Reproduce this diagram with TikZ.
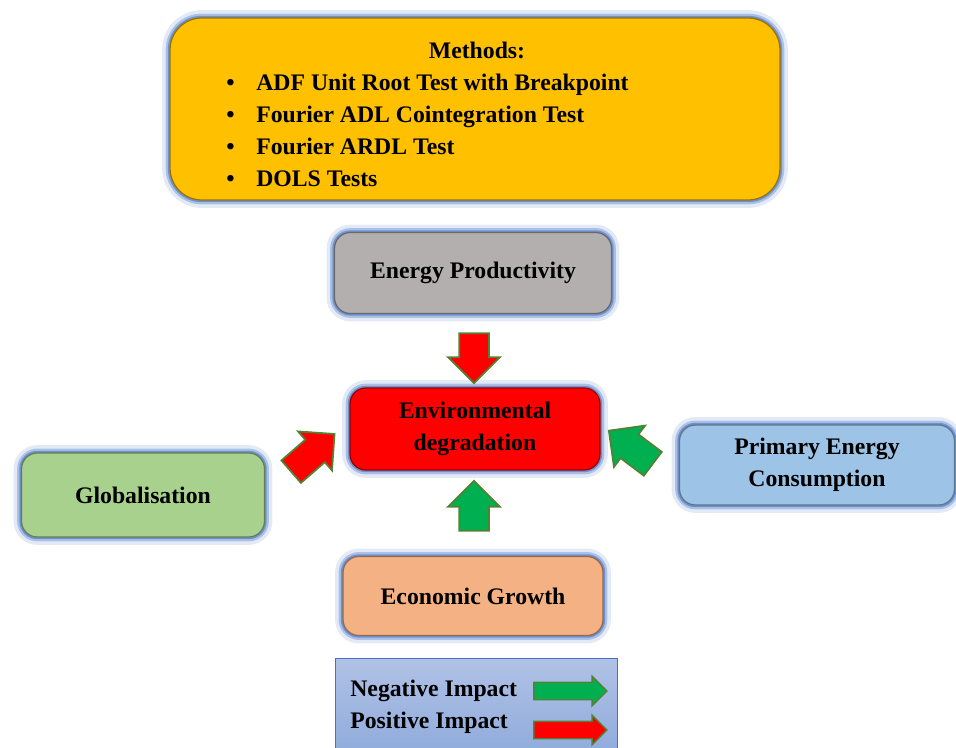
\documentclass[tikz,border=0pt]{standalone}
\usepackage{fontspec}
\setmainfont{Liberation Serif}
\usetikzlibrary{shapes.arrows,calc}

\definecolor{glowblue}{HTML}{4472C4}
\definecolor{methodsgold}{HTML}{FFC000}
\definecolor{prodgray}{HTML}{B3AFAF}
\definecolor{globgreen}{HTML}{A9D18E}
\definecolor{consblue}{HTML}{9DC3E6}
\definecolor{growthpeach}{HTML}{F4B183}
\definecolor{negarrow}{HTML}{00B050}
\definecolor{arrowedge}{HTML}{548235}
\definecolor{legendblue}{HTML}{8EA9DB}

\tikzset{
  glow/.style={preaction={draw=glowblue, line width=9pt, opacity=0.15},
               preaction={draw=glowblue, line width=5pt, opacity=0.35},
               preaction={draw=glowblue, line width=2.5pt, opacity=0.6}},
  box/.style={rounded corners=9pt, fill=#1, draw=#1!60!black, line width=0.7pt,
              glow, align=center, inner sep=0pt},
  boxfont/.style={font=\bfseries\fontsize{13.5}{18.2}\selectfont},
  bigarrow/.style={single arrow, draw=arrowedge, line width=1pt, fill=#1,
                   minimum width=1.0cm, single arrow head extend=0.22cm,
                   minimum height=1.0cm, inner xsep=0pt, inner ysep=0.28cm},
  keyarrow/.style={single arrow, draw=arrowedge, line width=0.8pt, fill=#1,
                   minimum width=0.56cm, single arrow head extend=0.12cm,
                   minimum height=1.46cm, inner xsep=0pt, inner ysep=0.16cm}
}

\begin{document}
\begin{tikzpicture}[x=0.02cm, y=-0.02cm, boxfont]
  \clip (0,0) rectangle (956,747);

  % methods
  \node[box=methodsgold, rounded corners=18pt, minimum width=12.2cm, minimum height=3.64cm] (methods) at (475,109) {};
  \node (mtitle) at (477,50) {Methods:};
  \node[anchor=west, align=left, inner sep=0pt] (mlist) at (226,130)
    {\makebox[0.6cm][l]{\textbullet}ADF Unit Root Test with Breakpoint\\
     \makebox[0.6cm][l]{\textbullet}Fourier ADL Cointegration Test\\
     \makebox[0.6cm][l]{\textbullet}Fourier ARDL Test\\
     \makebox[0.6cm][l]{\textbullet}DOLS Tests};

  % variables
  \node[box=prodgray, minimum width=5.54cm, minimum height=1.62cm] (ep) at (473,273) {Energy Productivity};
  \node[box=red, minimum width=5.0cm, minimum height=1.64cm] (env) at (475,429) {Environmental\\degradation};
  \node[box=globgreen, minimum width=4.86cm, minimum height=1.68cm] (glob) at (143,495) {Globalisation};
  \node[box=consblue, minimum width=5.5cm, minimum height=1.6cm] (pec) at (817,465) {Primary Energy\\Consumption};
  \node[box=growthpeach, minimum width=5.2cm, minimum height=1.58cm] (eg) at (473,596) {Economic Growth};

  % impact arrows
  \node[bigarrow=red, rotate=-90] (epimp) at ($(ep.south)!0.5!(env.north)$) {};
  \node[bigarrow=negarrow, rotate=90] (egimp) at ($(eg.north)!0.5!(env.south)$) {};
  \node[bigarrow=red, rotate=41, minimum height=1.15cm] (globimp) at ($(glob.north east)!0.5!(env.west)+(0,17)$) {};
  \node[bigarrow=negarrow, rotate=143, minimum height=1.1cm] (pecimp) at ($(pec.north west)!0.5!(env.east)+(-3,25)$) {};

  % legend
  \node[draw=glowblue, line width=0.5pt, top color=legendblue!70!white, bottom color=legendblue,
        minimum width=5.64cm, minimum height=2.04cm] (legend) at (476,709) {};
  \node[anchor=west, inner sep=0pt] (negtxt) at (350,691) {Negative Impact};
  \node[anchor=west, inner sep=0pt] (postxt) at (350,723) {Positive Impact};
  \node[keyarrow=negarrow] (negkey) at (566,691) {};
  \node[keyarrow=red] (poskey) at (566,730) {};
\end{tikzpicture}
\end{document}
